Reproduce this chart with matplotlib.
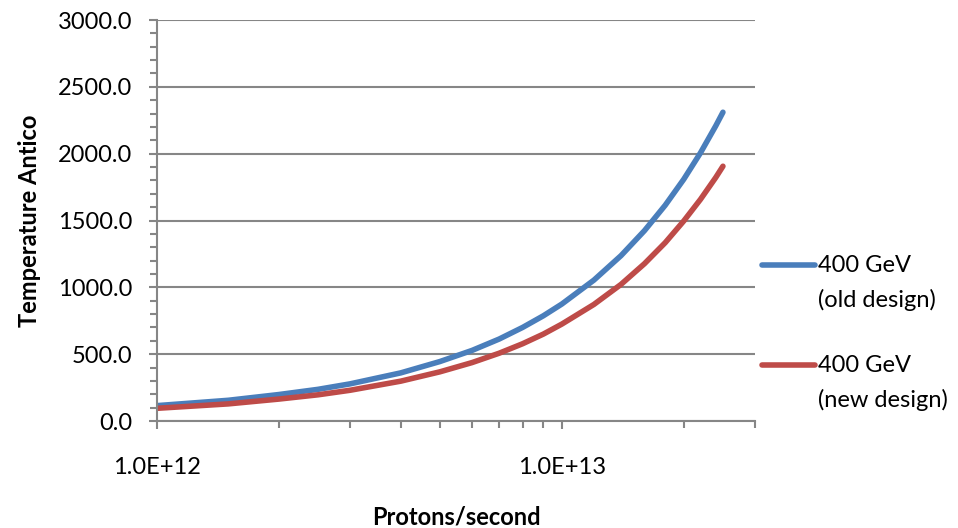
import numpy as np
import matplotlib
matplotlib.use("Agg")
import matplotlib.pyplot as plt
from matplotlib.lines import Line2D
from matplotlib.ticker import FixedLocator, MultipleLocator, FuncFormatter, NullFormatter

# values (protons in units of 1e12 per second)
protons = [1, 1.5, 2, 2.5, 3, 4, 5, 6, 7, 8, 9, 10, 12, 14, 16, 18, 20, 22, 24, 25]
temp_old = [115, 155, 198, 237, 278, 360, 445, 528, 613, 700, 787, 875,
            1054, 1237, 1424, 1614, 1808, 2006, 2208, 2310]
temp_new = [95, 128, 164, 196, 230, 298, 368, 437, 507, 578, 650, 725,
            872, 1022, 1177, 1334, 1496, 1658, 1822, 1906]
labels = ["400 GeV\n(old design)", "400 GeV\n(new design)"]
colors = ["#4A7EBB", "#BE4B48"]

plt.rcParams['font.family'] = ['Lato', 'DejaVu Sans']
axis_grey = "#868686"
W, H = 958, 528

fig = plt.figure(figsize=(W / 100, H / 100), dpi=100)
ax = fig.add_axes([157 / W, 1 - 421 / H, (755 - 157) / W, (421 - 20) / H])

xs = np.array(protons) * 1e12
for vals, c in zip([temp_old, temp_new], colors):
    ax.plot(xs, vals, color=c, lw=4.0, solid_capstyle='round', solid_joinstyle='round')

ax.set_xscale('log')
ax.set_xlim(1e12, 3e13)
ax.set_ylim(0, 3000)

ax.xaxis.set_major_locator(FixedLocator([1e12, 1e13]))
ax.xaxis.set_minor_locator(FixedLocator([k * 1e12 for k in range(2, 10)] + [2e13, 3e13]))
ax.xaxis.set_major_formatter(FuncFormatter(lambda v, p: "%.1E" % v))
ax.xaxis.set_minor_formatter(NullFormatter())

ax.yaxis.set_major_locator(MultipleLocator(500))
ax.yaxis.set_minor_locator(MultipleLocator(100))
ax.yaxis.set_major_formatter(FuncFormatter(lambda v, p: "%.1f" % v))

ax.grid(axis='y', which='major', color=axis_grey, lw=1.5)
ax.set_axisbelow(True)

for s in ['top', 'right']:
    ax.spines[s].set_visible(False)
for s in ['left', 'bottom']:
    ax.spines[s].set_color(axis_grey)
    ax.spines[s].set_linewidth(1.5)

ax.tick_params(axis='both', which='both', color=axis_grey, width=1.5, labelsize=17)
ax.tick_params(axis='y', which='major', length=6, pad=12)
ax.tick_params(axis='y', which='minor', length=5)
ax.tick_params(axis='x', which='major', length=6, pad=20)
ax.tick_params(axis='x', which='minor', length=5)

ax.set_xlabel("Protons/second", fontsize=17, fontweight='bold', labelpad=20)
ax.set_ylabel("Temperature Antico", fontsize=17, fontweight='bold', labelpad=12)

# legend drawn by hand: handle sits on the first line of each label
for i, (lab, c) in enumerate(zip(labels, colors)):
    y0 = 265 + 100 * i
    fig.add_artist(Line2D([762 / W, 815 / W], [1 - y0 / H, 1 - y0 / H], color=c, lw=4.0,
                          solid_capstyle='round', transform=fig.transFigure))
    for j, line in enumerate(lab.split("\n")):
        fig.text(818 / W, 1 - (y0 + 35 * j) / H, line, fontsize=17, va='center', ha='left')

fig.savefig("out.png", dpi=100)
